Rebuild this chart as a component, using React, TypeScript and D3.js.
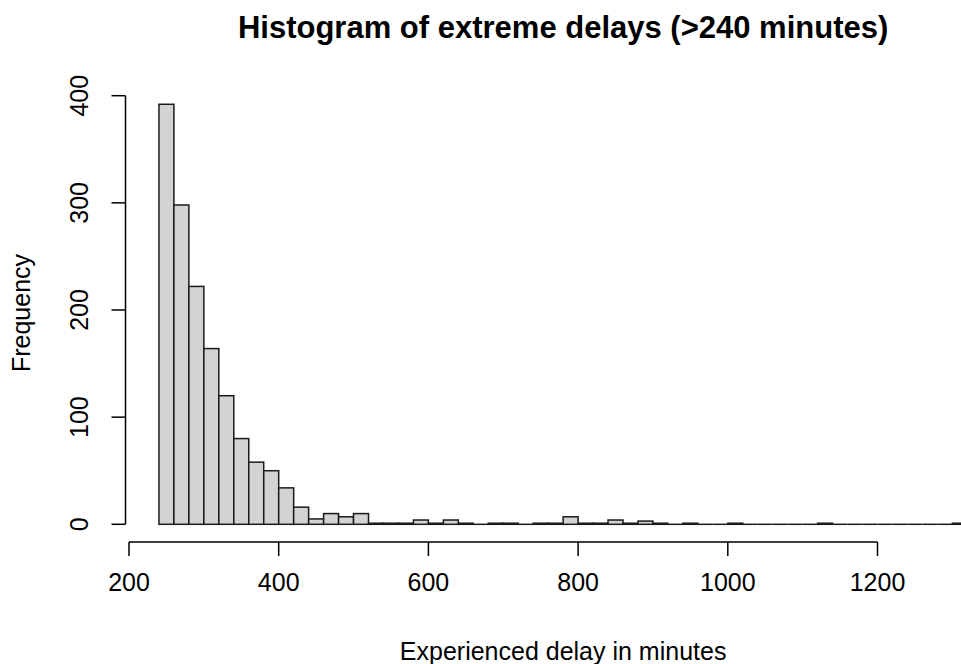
import React from "react";
import * as d3 from "d3";

const binStarts = [
  240, 260, 280, 300, 320, 340, 360, 380, 400, 420, 440, 460, 480, 500, 520, 540, 560, 580,
  600, 620, 640, 660, 680, 700, 720, 740, 760, 780, 800, 820, 840, 860, 880, 900, 920, 940,
  960, 980, 1000, 1020, 1040, 1060, 1080, 1100, 1120, 1140, 1160, 1180, 1200, 1220, 1240,
  1260, 1280, 1300,
];
const counts = [
  392, 298, 222, 164, 120, 80, 58, 50, 34, 16, 5, 10, 7, 10, 1, 1, 1, 4,
  1, 4, 1, 0, 1, 1, 0, 1, 1, 7, 1, 1, 4, 1, 3, 1, 0, 1,
  0, 0, 1, 0, 0, 0, 0, 0, 1, 0, 0, 0, 0, 0, 0,
  0, 0, 1,
];
const binWidth = 20;
const xTicks = [200, 400, 600, 800, 1000, 1200];
const yTicks = [0, 100, 200, 300, 400];
const title = "Histogram of extreme delays (>240 minutes)";
const xLabel = "Experienced delay in minutes";
const yLabel = "Frequency";

export default function App() {
  const W = 961, H = 664;
  const x = d3.scaleLinear().domain([200, 1200]).range([129, 877.5]);
  const y = d3.scaleLinear().domain([0, 400]).range([524.3, 95.7]);
  const font = "'Liberation Sans', Arial, sans-serif";
  const axisY = 542;
  const axisX = 125.5;
  const cx = x((binStarts[0] + binStarts[binStarts.length - 1] + binWidth) / 2);
  const yMid = (y(0) + y(400)) / 2 + 3;

  return (
    <svg width={W} height={H} style={{ position: "absolute", left: 0, top: 0, background: "#fff" }}>
      <rect x={0} y={0} width={W} height={H} fill="#fff" />
      <text x={cx} y={38} textAnchor="middle" fontFamily={font} fontWeight="bold" fontSize={31} fill="#000">
        {title}
      </text>
      {binStarts.map((b, i) => {
        const x0 = x(b), x1 = x(b + binWidth);
        const y0 = y(counts[i]);
        if (counts[i] === 0) {
          return (
            <line key={b} x1={x0} x2={x1} y1={y(0)} y2={y(0)} stroke="#1a1a1a" strokeWidth={1.5} />
          );
        }
        return (
          <rect
            key={b}
            x={x0}
            y={y0}
            width={x1 - x0}
            height={Math.max(0, y(0) - y0)}
            fill="#D3D3D3"
            stroke="#1a1a1a"
            strokeWidth={1.5}
          />
        );
      })}
      {/* x axis */}
      <line x1={x(xTicks[0])} x2={x(xTicks[xTicks.length - 1])} y1={axisY} y2={axisY} stroke="#000" strokeWidth={1.5} />
      {xTicks.map((t) => (
        <g key={t}>
          <line x1={x(t)} x2={x(t)} y1={axisY} y2={axisY + 14} stroke="#000" strokeWidth={1.5} />
          <text x={x(t)} y={591} textAnchor="middle" fontFamily={font} fontSize={25} fill="#000">
            {t}
          </text>
        </g>
      ))}
      {/* y axis */}
      <line x1={axisX} x2={axisX} y1={y(yTicks[0])} y2={y(yTicks[yTicks.length - 1])} stroke="#000" strokeWidth={1.5} />
      {yTicks.map((t) => (
        <g key={t}>
          <line x1={axisX - 14} x2={axisX} y1={y(t)} y2={y(t)} stroke="#000" strokeWidth={1.5} />
          <text
            transform={`translate(88,${y(t)}) rotate(-90)`}
            textAnchor="middle"
            fontFamily={font}
            fontSize={25}
            fill="#000"
          >
            {t}
          </text>
        </g>
      ))}
      <text x={cx} y={660} textAnchor="middle" fontFamily={font} fontSize={25} fill="#000">
        {xLabel}
      </text>
      <text
        transform={`translate(30,${yMid}) rotate(-90)`}
        textAnchor="middle"
        fontFamily={font}
        fontSize={25}
        fill="#000"
      >
        {yLabel}
      </text>
    </svg>
  );
}
